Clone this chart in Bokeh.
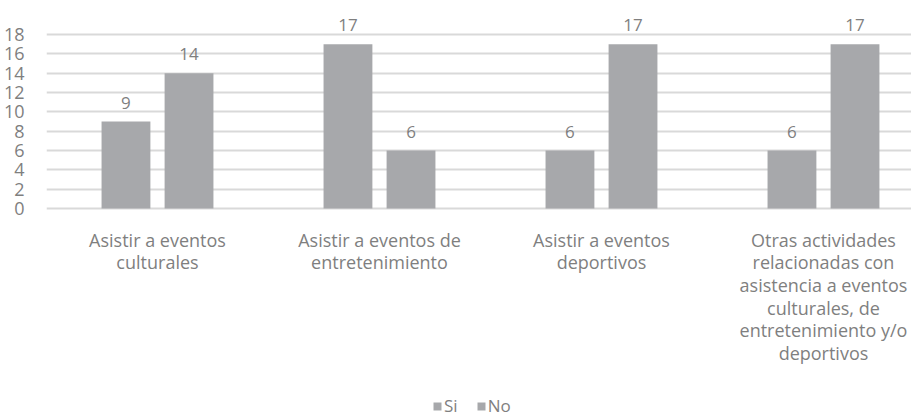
from bokeh.plotting import figure
from bokeh.models import (Range1d, FixedTicker, ColumnDataSource, LabelSet,
                          Legend, LegendItem)
from bokeh.core.properties import value
from bokeh.transform import dodge
from bokeh.embed import file_html
from bokeh.resources import INLINE

categories = [
    "Asistir a eventos\nculturales",
    "Asistir a eventos de\nentretenimiento",
    "Asistir a eventos\ndeportivos",
    "Otras actividades\nrelacionadas con\nasistencia a eventos\nculturales, de\nentretenimiento y/o\ndeportivos",
]
series = ["Si", "No"]
si_values = [9, 17, 6, 6]
no_values = [14, 6, 17, 17]
y_ticks = [0, 2, 4, 6, 8, 10, 12, 14, 16, 18]

BAR = "#a7a8ab"
TXT = "#7f7f7f"
GRID = "#d9d9d9"
FONT = "Open Sans"

xs = list(range(len(categories)))
src = ColumnDataSource(dict(
    x=xs, si=si_values, no=no_values, cat=categories,
    si_t=[str(v) for v in si_values], no_t=[str(v) for v in no_values],
))

# the frame covers the whole canvas; the lower part holds category labels
p = figure(frame_width=870, frame_height=417,
           x_range=Range1d(-0.5, 3.419), y_range=Range1d(-21.62, 21.52),
           output_backend="svg", toolbar_location=None,
           min_border_left=41, min_border_right=0, min_border_top=0,
           min_border_bottom=0, outline_line_color=None)

off = 0.142
w = 0.22
r1 = p.vbar(x=dodge("x", -off, range=p.x_range), top="si", width=w, source=src,
            fill_color=BAR, line_color=None)
r2 = p.vbar(x=dodge("x", off, range=p.x_range), top="no", width=w, source=src,
            fill_color=BAR, line_color=None)

for col, o in (("si", -off), ("no", off)):
    lab = LabelSet(x=dodge("x", o, range=p.x_range), y=col, text=col + "_t",
                   source=src, text_align="center", text_baseline="bottom",
                   y_offset=13, text_font=value(FONT),
                   text_font_size=value("17px"), text_color=TXT)
    p.add_layout(lab)

# category labels (multi-line), placed just under the zero line
label_y = -2.0
p.text(x="x", y=label_y, text="cat", source=src, text_align="center",
       text_baseline="top", text_font=value(FONT),
       text_font_size=value("18px"), text_color=TXT, text_line_height=0.94)

# axes
p.xaxis.visible = False

p.yaxis.ticker = FixedTicker(ticks=y_ticks)
p.yaxis.major_label_text_font = FONT
p.yaxis.major_label_text_font_size = "18px"
p.yaxis.major_label_text_color = TXT
p.yaxis.major_label_standoff = 16
p.yaxis.major_tick_line_color = None
p.yaxis.minor_tick_line_color = None
p.yaxis.axis_line_color = None

p.xgrid.grid_line_color = None
p.ygrid.ticker = FixedTicker(ticks=y_ticks)
p.ygrid.grid_line_color = GRID
p.ygrid.grid_line_width = 2

legend = Legend(items=[LegendItem(label=series[0], renderers=[r1]),
                       LegendItem(label=series[1], renderers=[r2])],
                orientation="horizontal", location=(386, 0),
                glyph_width=10, glyph_height=10, label_text_font=FONT,
                label_text_font_size="17px", label_text_color=TXT,
                label_standoff=2, label_width=0, spacing=18,
                border_line_color=None, background_fill_alpha=0,
                margin=0, padding=0)
p.add_layout(legend, "center")

open("out.html", "w").write(file_html(p, INLINE))
